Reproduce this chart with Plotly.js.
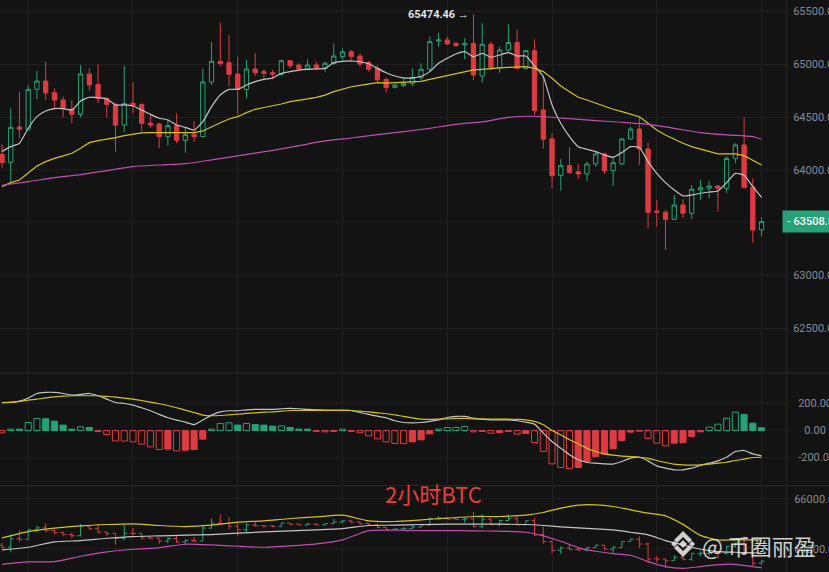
<!DOCTYPE html>
<html>
<head>
<meta charset="utf-8">
<script src="https://cdn.plot.ly/plotly-3.0.1.min.js"></script>
<style>
html,body{margin:0;padding:0;background:#131313;}
#chart{width:829px;height:572px;}
</style>
</head>
<body>
<div id="chart"></div>
<script>
// ---- 2h BTC candles (index 0..87) ----
const openP = [64146,64071,64405,64383,64762,64841,64731,64661,64576,64526,64908,64807,64677,64620,64424,64630,64620,64443,64434,64314,64418,64279,64336,64314,64832,65028,65015,64908,64762,64955,64930,64920,64904,65034,64993,64955,64993,64961,65009,65072,65119,65078,65015,64961,64857,64781,64797,64819,64873,64952,65220,65230,65198,65183,65198,64889,65189,64968,65135,65205,64961,65129,64567,64292,63944,64039,63982,63960,64055,64150,63992,64055,64292,64386,64197,63609,63597,63530,63666,63587,63808,63824,63846,63824,64108,64235,63834,63429];
const highP = [64241,64582,64740,64803,64936,65025,64772,64693,64661,64993,64961,65000,64683,64630,64987,64832,64625,64519,64446,64472,64535,64396,64465,64961,65211,65391,65277,65072,65040,65104,64952,64946,65046,65040,65009,65046,65024,65024,65198,65151,65135,65103,65034,64993,64867,64819,64867,64961,65009,65262,65299,65262,65214,65246,65474.46,65388,65214,65167,65382,65331,65135,65236,64889,64345,64099,64213,64055,64077,64172,64162,64124,64298,64409,64503,64257,63714,63619,63761,63720,63856,63903,63894,63853,64124,64251,64497,63919,63549];
const lowP = [64020,63872,64298,64371,64668,64661,64579,64497,64440,64497,64750,64630,64497,64172,64355,64535,64361,64399,64203,64228,64251,64162,64266,64308,64803,64983,64788,64519,64674,64889,64848,64857,64895,64961,64939,64945,64945,64923,64993,65040,65018,64977,64930,64835,64731,64772,64788,64794,64851,64930,65167,65183,65167,65047,64851,64826,64946,64920,65119,64952,64952,64519,64203,63824,63802,63966,63913,63894,64030,63960,63849,64045,64282,64045,63445,63461,63240,63524,63540,63530,63714,63729,63603,63777,64061,63824,63309,63366];
const closeP = [64067,64402,64383,64762,64841,64728,64661,64582,64526,64908,64803,64677,64620,64424,64627,64611,64440,64424,64314,64418,64279,64333,64314,64832,65028,65006,64905,64762,64955,64920,64914,64905,65034,64986,64955,64993,64961,65009,65078,65119,65072,65002,64952,64851,64778,64803,64819,64873,64952,65214,65230,65192,65176,65198,64898,65189,64968,65135,65205,64961,65129,64560,64289,63944,64039,63973,63960,64055,64150,63992,64067,64292,64386,64197,63597,63597,63530,63666,63587,63815,63830,63846,63824,64108,64235,63834,63429,63508.5];

// ---- moving averages ----
const ma7 = [64172,64219,64251,64393,64503,64557,64579,64579,64566,64652,64687,64683,64671,64614,64614,64604,64566,64525,64488,64472,64424,64402,64377,64456,64598,64709,64762,64762,64803,64835,64857,64870,64914,64930,64945,64952,64955,64961,65015,65028,65031,65024,65005,64961,64920,64889,64870,64870,64886,64930,65009,65056,65097,65119,65072,65104,65066,65088,65110,65078,65078,64984,64882,64614,64440,64314,64219,64194,64172,64140,64118,64162,64219,64210,64077,63966,63878,63808,63752,63761,63777,63789,63799,63878,63966,63947,63840,63739];
const ma25 = [63840,63878,63903,63966,64036,64077,64108,64131,64156,64203,64257,64276,64289,64304,64323,64339,64349,64352,64352,64352,64352,64352,64352,64368,64409,64446,64481,64503,64541,64573,64590,64604,64623,64645,64655,64671,64686,64708,64740,64765,64787,64800,64813,64825,64822,64826,64829,64832,64838,64857,64876,64892,64914,64933,64946,64952,64955,64965,64971,64977,64977,64961,64930,64867,64794,64740,64687,64661,64630,64604,64573,64551,64529,64503,64440,64377,64330,64289,64251,64219,64194,64172,64150,64150,64150,64134,64093,64045];
const ma99Idx = [0,3,6,9,12,15,18,21,24,27,31,34,37,40,43,46,49,52,55,58,61,65,68,71,74,77,80,83,86,87];
const ma99 = [63853,63887,63925,63954,63992,64030,64045,64058,64093,64131,64184,64228,64273,64301,64333,64361,64393,64431,64453,64497,64507,64484,64465,64450,64431,64393,64352,64330,64314,64289];

// ---- MACD ----
const macdHist = [-17,10,10,59,89,87,69,40,10,27,22,-7,-30,-77,-78,-84,-101,-121,-141,-138,-151,-146,-141,-64,10,52,57,40,52,44,40,32,34,22,10,10,-7,-10,-7,10,-7,-17,-40,-62,-84,-96,-97,-84,-69,-25,10,22,23,30,-10,-7,-20,-15,-7,-27,-22,-89,-156,-247,-274,-281,-274,-230,-193,-175,-136,-74,-12,-5,-59,-94,-114,-94,-89,-44,-10,25,47,91,136,119,54,20];
const macdDif = [207,210,217,240,274,282,282,274,262,267,274,257,232,207,200,188,168,146,119,94,77,62,44,77,114,138,146,146,153,156,156,156,161,163,161,156,153,151,151,151,148,133,119,106,94,72,59,57,59,67,79,96,104,104,91,84,79,79,79,72,62,47,-20,-82,-131,-180,-217,-237,-242,-247,-249,-230,-205,-198,-225,-262,-279,-291,-291,-279,-259,-242,-225,-198,-156,-148,-173,-188];
const macdDea = [205,207,215,225,232,242,249,254,257,257,257,257,252,247,240,232,222,210,198,185,168,151,133,114,109,111,116,121,126,131,136,138,143,148,148,148,148,148,148,148,148,143,138,131,124,116,104,94,84,82,84,86,89,89,86,84,84,84,84,82,79,67,42,0,-32,-69,-99,-131,-156,-173,-183,-190,-193,-198,-207,-222,-237,-249,-254,-257,-254,-249,-242,-235,-222,-212,-200,-198];

// ---- BOLL ----
const bollIdx = [0,3,6,9,12,15,18,21,24,27,30,33,36,39,42,45,48,51,54,57,60,62,64,66,68,70,72,74,76,78,80,82,84,86,87];
const bollUp = [64441,64694,64827,64921,64974,65001,64934,64894,64947,65067,65120,65214,65280,65347,65120,65094,65160,65227,65294,65294,65347,65454,65627,65747,65760,65694,65560,65427,65320,64980,64540,64361,64361,64361,64361];
const bollMid = [63961,64068,64281,64334,64427,64494,64521,64547,64574,64627,64681,64721,64761,64814,64934,64947,64974,64987,64987,64987,64974,64934,64881,64841,64801,64761,64667,64561,64334,64161,63987,63894,63867,63841,63827];
const bollLow = [63388,63481,63494,63707,63881,63987,64054,64187,64161,64107,64067,64121,64201,64361,64734,64747,64734,64734,64721,64707,64667,64521,64307,64054,63907,63814,63747,63494,63294,63227,63294,63374,63388,63294,63254];

// ---- axis ticks ----
const mainTicks = [62500,63000,63500,64000,64500,65000,65500];
const mainTickText = ['62500.00','63000.00','','64000.00','64500.00','65000.00','65500.00'];
const macdTicks = [-200,0,200];
const macdTickText = ['-200.00','\u20070.00','200.00'];
const bollTicks = [64000,66000];
const bollTickText = ['64000.00','66000.00'];
const lastPrice = 63508.5;
const highPrice = 65474.46;
const highIdx = 54;

// ---- styling ----
const BG = '#131313';
const GREEN = '#25a27a';
const RED = '#dd3b41';
const GRID = '#1f1f1f';
const TICKC = '#838b99';
const idx = closeP.map((_, i) => i);

const histFill = [], histLine = [];
macdHist.forEach((h, i) => {
  const col = h >= 0 ? GREEN : RED;
  const prev = i > 0 ? macdHist[i - 1] : 0;
  const hollow = (Math.sign(prev) !== Math.sign(h)) || Math.abs(h) > Math.abs(prev);
  histFill.push(hollow ? BG : col);
  histLine.push(col);
});

const traces = [
  {type:'candlestick', x:idx, open:openP, high:highP, low:lowP, close:closeP,
   xaxis:'x', yaxis:'y',
   increasing:{line:{color:GREEN,width:1}, fillcolor:BG},
   decreasing:{line:{color:RED,width:1}, fillcolor:RED},
   whiskerwidth:0, showlegend:false, hoverinfo:'skip'},
  {type:'scatter', mode:'lines', x:idx, y:ma7, yaxis:'y', line:{color:'#c4c4c4',width:1.2,shape:'spline',smoothing:0.5}, hoverinfo:'skip', showlegend:false},
  {type:'scatter', mode:'lines', x:idx, y:ma25, yaxis:'y', line:{color:'#d4c21c',width:1.2}, hoverinfo:'skip', showlegend:false},
  {type:'scatter', mode:'lines', x:ma99Idx, y:ma99, yaxis:'y', line:{color:'#c44cb2',width:1.2,shape:'spline',smoothing:0.6}, hoverinfo:'skip', showlegend:false},

  {type:'bar', x:idx, y:macdHist, yaxis:'y2',
   marker:{color:histFill, line:{color:histLine,width:1}}, hoverinfo:'skip', showlegend:false},
  {type:'scatter', mode:'lines', x:idx, y:macdDif, yaxis:'y2', line:{color:'#c4c4c4',width:1.2,shape:'spline',smoothing:0.5}, hoverinfo:'skip', showlegend:false},
  {type:'scatter', mode:'lines', x:idx, y:macdDea, yaxis:'y2', line:{color:'#d4c21c',width:1.2,shape:'spline',smoothing:0.5}, hoverinfo:'skip', showlegend:false},

  {type:'scatter', mode:'lines', x:bollIdx, y:bollUp, yaxis:'y3', line:{color:'#d4c21c',width:1.2,shape:'spline',smoothing:0.6}, hoverinfo:'skip', showlegend:false},
  {type:'scatter', mode:'lines', x:bollIdx, y:bollMid, yaxis:'y3', line:{color:'#c4c4c4',width:1.2,shape:'spline',smoothing:0.6}, hoverinfo:'skip', showlegend:false},
  {type:'scatter', mode:'lines', x:bollIdx, y:bollLow, yaxis:'y3', line:{color:'#c44cb2',width:1.2,shape:'spline',smoothing:0.6}, hoverinfo:'skip', showlegend:false},
  {type:'ohlc', x:idx, open:openP, high:highP, low:lowP, close:closeP, yaxis:'y3',
   increasing:{line:{color:GREEN,width:1}}, decreasing:{line:{color:RED,width:1}},
   tickwidth:0.35, hoverinfo:'skip', showlegend:false}
];

const yCommon = {side:'right', showgrid:true, gridcolor:GRID, gridwidth:1, zeroline:false,
  showline:true, linecolor:'#262626', linewidth:1, ticks:'', automargin:false, fixedrange:true,
  tickfont:{family:'Roboto, Arial, sans-serif', size:11, color:TICKC}, tickmode:'array'};

const logoPath = 'M 0 4 L 4 0 L 0 -4 L -4 0 Z ' +
  'M -9 3 L -6 0 L -9 -3 L -12 0 Z ' +
  'M 9 3 L 12 0 L 9 -3 L 6 0 Z ' +
  'M 0 13 L 9 4 L 6 1 L 0 7 L -6 1 L -9 4 Z ' +
  'M 0 -13 L 9 -4 L 6 -1 L 0 -7 L -6 -1 L -9 -4 Z';

const layout = {
  width:829, height:572,
  margin:{l:0, r:43, t:0, b:0, pad:0},
  paper_bgcolor:BG, plot_bgcolor:BG,
  showlegend:false, bargap:0.3, dragmode:false,
  xaxis:{range:[-0.23, 89.8], showgrid:true, gridcolor:GRID, tick0:3, dtick:12, tickmode:'linear',
         showticklabels:false, ticks:'', zeroline:false, showline:false,
         rangeslider:{visible:false}, fixedrange:true},
  yaxis:Object.assign({}, yCommon, {domain:[0.348,1], range:[62074,65609],
         tickvals:mainTicks, ticktext:mainTickText, ticklabelstandoff:4}),
  yaxis2:Object.assign({}, yCommon, {domain:[0.152,0.348], range:[-404,426],
         tickvals:macdTicks, ticktext:macdTickText, ticklabelstandoff:9}),
  yaxis3:Object.assign({}, yCommon, {domain:[0,0.149], range:[63080,66480],
         tickvals:bollTicks, ticktext:bollTickText, ticklabelstandoff:5}),
  shapes:[
    {type:'line', xref:'paper', yref:'paper', x0:0, x1:1.1, y0:0.348, y1:0.348, line:{color:'#2a2a2a',width:1}},
    {type:'line', xref:'paper', yref:'paper', x0:0, x1:1.1, y0:0.151, y1:0.151, line:{color:'#2a2a2a',width:1}},
    {type:'path', xref:'paper', yref:'paper', xsizemode:'pixel', ysizemode:'pixel',
     xanchor:0.869, yanchor:0.049, path:logoPath,
     fillcolor:'rgba(235,235,235,0.88)', line:{width:0}}
  ],
  annotations:[
    {x:highIdx, y:highPrice, xref:'x', yref:'y', text:highPrice.toFixed(2)+' \u2192', showarrow:false,
     xanchor:'right', yanchor:'middle', xshift:-2,
     font:{family:'Roboto, Arial, sans-serif', size:11, color:'#eaecef', weight:600}},
    {x:1, y:lastPrice, xref:'paper', yref:'y', text:'- ' + lastPrice.toFixed(2), showarrow:false,
     xanchor:'left', yanchor:'middle', xshift:-4, bgcolor:'#26a178', borderpad:4,
     font:{family:'Roboto, Arial, sans-serif', size:11, color:'#ffffff', weight:500}},
    {x:0.551, y:0.138, xref:'paper', yref:'paper', text:'2小时BTC', showarrow:false,
     xanchor:'center', yanchor:'middle',
     font:{family:'"Noto Sans CJK SC", "Noto Sans", sans-serif', size:22, color:'#ee3a3a'}},
    {x:0.966, y:0.047, xref:'paper', yref:'paper', text:'@ 币圈丽盈', showarrow:false,
     xanchor:'center', yanchor:'middle',
     font:{family:'"Noto Sans CJK SC", "Noto Sans", sans-serif', size:22, color:'rgba(235,235,235,0.88)'}}
  ]
};

Plotly.newPlot('chart', traces, layout, {staticPlot:true, displayModeBar:false});
</script>
</body>
</html>
